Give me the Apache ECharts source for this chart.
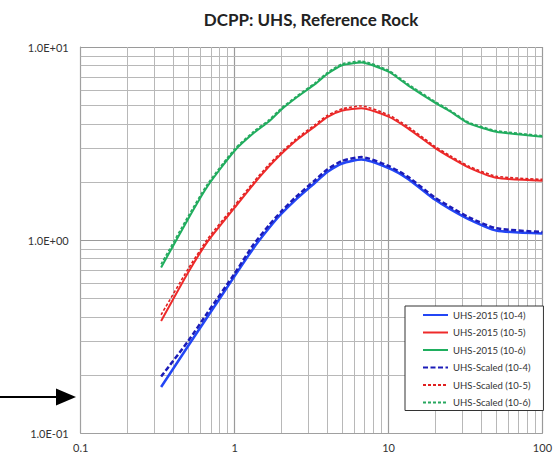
<!DOCTYPE html>
<html>
<head>
<meta charset="utf-8">
<script src="https://cdn.jsdelivr.net/npm/echarts@6/dist/echarts.min.js"></script>
<style>
  html, body { margin: 0; padding: 0; background: #fff; }
  #chart { width: 555px; height: 453px; }
</style>
</head>
<body>
<div id="chart"></div>
<script>
// Spectral frequencies (Hz) shared by every spectrum
const freqs = [0.333, 0.5, 0.667, 1.0, 1.33, 1.67, 2.0, 2.5, 3.33, 4.0, 5.0, 6.67, 10, 13.3, 20, 25, 33.3, 50, 100];

// UHS-2015 spectral accelerations (g)
const uhs2015_e4 = [0.173, 0.283, 0.40, 0.65, 0.91, 1.15, 1.36, 1.62, 1.98, 2.25, 2.49, 2.61, 2.36, 2.08, 1.62, 1.45, 1.28, 1.12, 1.08];
const uhs2015_e5 = [0.38, 0.68, 0.98, 1.47, 1.95, 2.40, 2.78, 3.27, 3.88, 4.33, 4.68, 4.82, 4.36, 3.80, 3.00, 2.69, 2.37, 2.10, 2.03];
const uhs2015_e6 = [0.72, 1.29, 1.90, 2.90, 3.58, 4.11, 4.72, 5.44, 6.42, 7.25, 8.05, 8.30, 7.45, 6.35, 5.15, 4.65, 4.02, 3.64, 3.43];

// Scaled UHS spectral accelerations (g)
const uhsScaled_e4 = [0.196, 0.30, 0.42, 0.67, 0.95, 1.19, 1.40, 1.67, 2.04, 2.32, 2.57, 2.69, 2.42, 2.13, 1.66, 1.49, 1.31, 1.15, 1.10];
const uhsScaled_e5 = [0.41, 0.71, 1.01, 1.51, 2.00, 2.46, 2.84, 3.33, 3.96, 4.42, 4.78, 4.95, 4.45, 3.88, 3.06, 2.74, 2.41, 2.14, 2.06];
const uhsScaled_e6 = [0.75, 1.33, 1.95, 2.96, 3.65, 4.19, 4.80, 5.52, 6.52, 7.36, 8.18, 8.45, 7.56, 6.45, 5.22, 4.71, 4.07, 3.69, 3.47];

const seriesNames = [
  'UHS-2015 (10-4)', 'UHS-2015 (10-5)', 'UHS-2015 (10-6)',
  'UHS-Scaled (10-4)', 'UHS-Scaled (10-5)', 'UHS-Scaled (10-6)'
];

// Axis tick labels (decades)
const xTickLabels = ['0.1', '1', '10', '100'];
const yTickLabels = ['1.0E-01', '1.0E+00', '1.0E+01'];

// Intermediate log-grid positions
const xMinorGrid = [0.2, 0.3, 0.4, 0.5, 0.6, 0.7, 0.8, 0.9, 2, 3, 4, 5, 6, 7, 8, 9, 20, 30, 40, 50, 60, 70, 80, 90];
const yMinorGrid = [0.2, 0.3, 0.4, 0.5, 0.6, 0.7, 0.8, 0.9, 2, 3, 4, 5, 6, 7, 8, 9];

const pairs = vals => freqs.map((f, i) => [f, vals[i]]);

const styles = [
  { color: '#2346f5', width: 2.5, type: 'solid' },
  { color: '#ee2a2a', width: 2, type: 'solid' },
  { color: '#1fae5e', width: 2, type: 'solid' },
  { color: '#1c1cb8', width: 2.5, type: [5, 2.5] },
  { color: '#e02020', width: 1.6, type: [3, 2] },
  { color: '#27a85f', width: 1.6, type: [3, 2] }
];
const allData = [uhs2015_e4, uhs2015_e5, uhs2015_e6, uhsScaled_e4, uhsScaled_e5, uhsScaled_e6];

const dataSeries = allData.map((vals, i) => ({
  name: seriesNames[i],
  type: 'line',
  symbol: 'none',
  smooth: 0.2,
  z: 3,
  lineStyle: { color: styles[i].color, width: styles[i].width, type: styles[i].type },
  itemStyle: { color: styles[i].color },
  data: pairs(vals)
}));

const gridSeries = {
  name: 'grid',
  type: 'line',
  data: [],
  silent: true,
  z: 1,
  markLine: {
    silent: true,
    symbol: ['none', 'none'],
    animation: false,
    z: 1,
    label: { show: false },
    lineStyle: { color: '#b8b8b8', width: 1, type: 'solid' },
    emphasis: { disabled: true },
    data: [
      ...xMinorGrid.map(v => ({ xAxis: v })),
      ...yMinorGrid.map(v => ({ yAxis: v }))
    ]
  }
};

const chart = echarts.init(document.getElementById('chart'), null, { renderer: 'svg' });
chart.setOption({
  animation: false,
  backgroundColor: '#ffffff',
  textStyle: { fontFamily: 'Lato, "Open Sans", sans-serif' },
  grid: { left: 80.7, right: 9.3, top: 47, bottom: 19, containLabel: false },
  graphic: [
    {
      type: 'text',
      x: 311, y: 19,
      style: {
        text: 'DCPP: UHS, Reference Rock',
        fontFamily: 'Lato, "Open Sans", sans-serif',
        fontWeight: 'bold',
        fontSize: 17,
        fill: '#222',
        align: 'center',
        verticalAlign: 'middle'
      }
    },
    {
      type: 'group',
      children: [
        { type: 'line', shape: { x1: 0, y1: 397, x2: 60, y2: 397 }, style: { stroke: '#000', lineWidth: 2 } },
        { type: 'polygon', shape: { points: [[56, 388.5], [76, 397], [56, 405.5]] }, style: { fill: '#000' } }
      ]
    }
  ],
  legend: {
    data: seriesNames,
    orient: 'vertical',
    left: 405,
    top: 306,
    padding: [4, 13, 3, 17],
    itemWidth: 25,
    itemHeight: 12,
    itemGap: 7.5,
    backgroundColor: '#ffffff',
    borderColor: '#333',
    borderWidth: 1,
    borderRadius: 0,
    itemStyle: { color: 'rgba(0,0,0,0)', borderColor: 'rgba(0,0,0,0)', borderWidth: 0, opacity: 0 },
    textStyle: { fontSize: 9.5, color: '#333', fontFamily: 'Lato, "Open Sans", sans-serif' }
  },
  xAxis: {
    type: 'log',
    logBase: 10,
    min: 0.1,
    max: 100,
    axisLine: { show: true, lineStyle: { color: '#a0a0a0', width: 1 } },
    axisTick: { show: false },
    axisLabel: {
      margin: 9,
      fontSize: 11,
      color: '#333',
      formatter: v => xTickLabels[Math.round(Math.log10(v)) + 1]
    },
    splitLine: { show: true, lineStyle: { color: '#9a9a9a', width: 1.2 } }
  },
  yAxis: {
    type: 'log',
    logBase: 10,
    min: 0.1,
    max: 10,
    axisLine: { show: true, lineStyle: { color: '#a0a0a0', width: 1 } },
    axisTick: { show: false },
    axisLabel: {
      margin: 12,
      fontSize: 11,
      color: '#333',
      formatter: v => yTickLabels[Math.round(Math.log10(v)) + 1]
    },
    splitLine: { show: true, lineStyle: { color: '#9a9a9a', width: 1.2 } }
  },
  series: [gridSeries, ...dataSeries]
});
</script>
</body>
</html>
